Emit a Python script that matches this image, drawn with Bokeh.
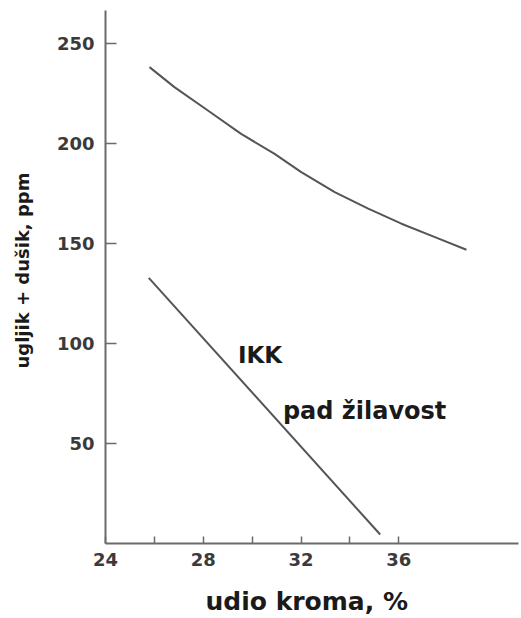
from bokeh.plotting import figure
from bokeh.models import Range1d, FixedTicker, Label, Title
from bokeh.embed import file_html
from bokeh.resources import INLINE

# Data
upper_x = [25.80, 26.82, 28.19, 29.55, 30.92, 32.01, 33.38, 34.75, 36.11, 37.48, 38.77]
upper_y = [238.2, 228.2, 216.5, 204.8, 194.8, 185.7, 175.7, 167.4, 159.9, 153.2, 146.9]
lower_x = [25.77, 35.24]
lower_y = [132.8, 4.5]

x_major = [24, 28, 32, 36]
x_minor = [26, 30, 34]
y_major = [50, 100, 150, 200, 250]

label_ikk = "IKK"
label_pad = "pad žilavost"
x_title = "udio kroma, %"
y_title = "ugljik + dušik, ppm"

FONT = "DejaVu Sans"
AX_COLOR = "#6a6a6a"
LINE_COLOR = "#555555"
TEXT_COLOR = "#1a1a1a"

p = figure(width=521, height=618, output_backend="svg", toolbar_location=None,
           x_range=Range1d(24, 40.9), y_range=Range1d(0, 266.5),
           min_border_left=105, min_border_right=3, min_border_top=10,
           min_border_bottom=75)

p.outline_line_color = None
p.xgrid.grid_line_color = None
p.ygrid.grid_line_color = None
p.background_fill_color = "white"
p.border_fill_color = "white"

p.line(upper_x, upper_y, line_color=LINE_COLOR, line_width=2, line_join="round")
p.line(lower_x, lower_y, line_color=LINE_COLOR, line_width=2)

# Axes
xa = p.xaxis[0]
xa.ticker = FixedTicker(ticks=x_major, minor_ticks=x_minor)
xa.axis_line_color = AX_COLOR
xa.axis_line_width = 2
xa.major_tick_line_color = AX_COLOR
xa.minor_tick_line_color = AX_COLOR
xa.major_tick_line_width = 1.5
xa.minor_tick_line_width = 1.5
xa.major_tick_in = 7
xa.major_tick_out = 0
xa.minor_tick_in = 7
xa.minor_tick_out = 0
xa.major_label_text_font = FONT
xa.major_label_text_font_style = "bold"
xa.major_label_text_font_size = "18px"
xa.major_label_text_color = "#3a3a3a"
xa.major_label_standoff = 9

ya = p.yaxis[0]
ya.ticker = FixedTicker(ticks=y_major, minor_ticks=[])
ya.axis_line_color = AX_COLOR
ya.axis_line_width = 2
ya.major_tick_line_color = AX_COLOR
ya.major_tick_line_width = 1.5
ya.major_tick_in = 11
ya.major_tick_out = 0
ya.minor_tick_in = 0
ya.minor_tick_out = 0
ya.major_label_text_font = FONT
ya.major_label_text_font_style = "bold"
ya.major_label_text_font_size = "18px"
ya.major_label_text_color = "#3a3a3a"
ya.major_label_standoff = 11

# Invisible spacers between the axes and their titles
p.add_layout(Title(text=" ", standoff=0, text_font=FONT,
                   text_font_size="12px"), "below")
p.add_layout(Title(text=" ", standoff=0, text_font=FONT,
                   text_font_size="12px"), "left")

# Axis titles as side titles (allow an offset along the axis)
p.add_layout(Title(text=x_title, align="left", offset=100, standoff=0,
                   text_font=FONT, text_font_style="bold",
                   text_font_size="25px", text_color=TEXT_COLOR), "below")
p.add_layout(Title(text=y_title, align="left", offset=175, standoff=10,
                   text_font=FONT, text_font_style="bold",
                   text_font_size="18px", text_color=TEXT_COLOR), "left")

# Annotations
p.add_layout(Label(x=29.42, y=94.5, text=label_ikk, text_font=FONT,
                   text_font_style="bold", text_font_size="23px",
                   text_color=TEXT_COLOR, text_baseline="alphabetic"))
p.add_layout(Label(x=31.26, y=66.5, text=label_pad, text_font=FONT,
                   text_font_style="bold", text_font_size="24px",
                   text_color=TEXT_COLOR, text_baseline="alphabetic"))

open("out.html", "w").write(file_html(p, INLINE))
